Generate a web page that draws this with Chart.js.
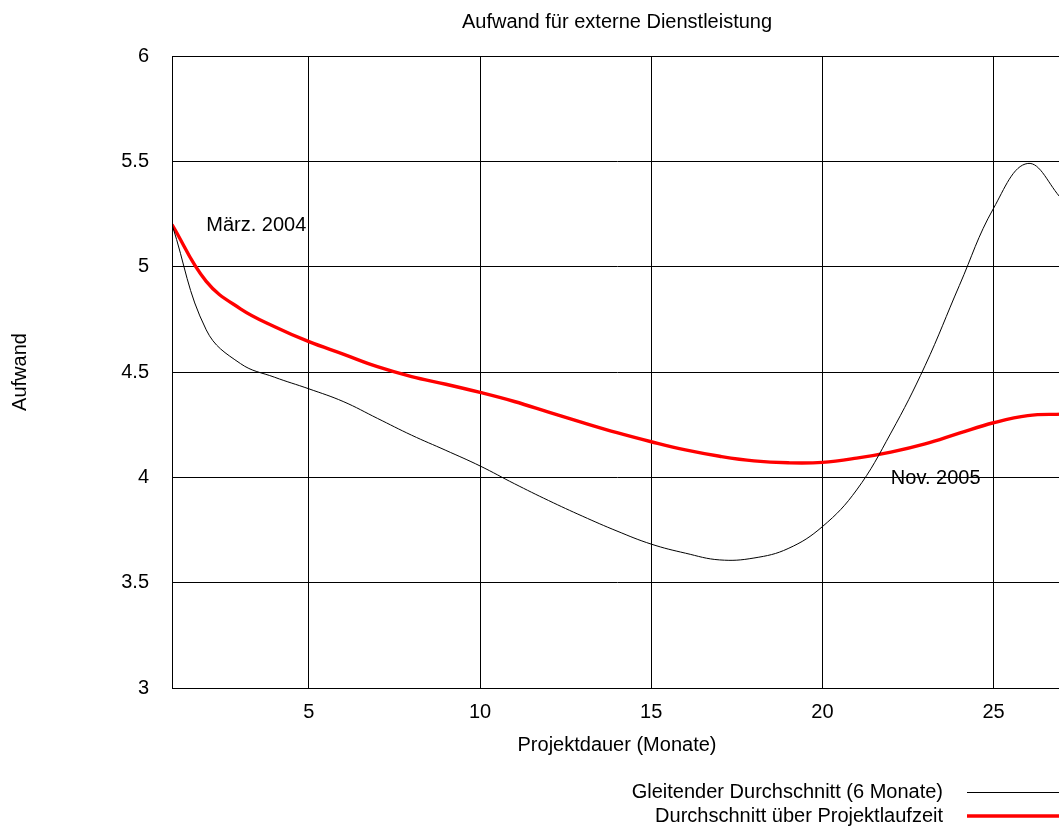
<!DOCTYPE html>
<html><head><meta charset="utf-8">
<script src="https://cdn.jsdelivr.net/npm/chart.js@4.4.1/dist/chart.umd.min.js"></script>
<style>html,body{margin:0;padding:0;overflow:hidden;background:#fff}</style>
</head><body>
<div style="width:1080px;height:826px"><canvas id="c" width="1080" height="826"></canvas></div>
<script>
// ---- data ----
const months = [1,2,3,4,5,6,7,8,9,10,11,12,13,14,15,16,17,18,19,20,21,22,23,24,25,26,27];
const gleitenderDurchschnitt = [5.2,4.70,4.54,4.475,4.42,4.36,4.28,4.20,4.128,4.054,3.97,3.89,3.815,3.745,3.683,3.64,3.608,3.617,3.662,3.766,3.94,4.21,4.53,4.91,5.277,5.49,5.32];
const durchschnittGesamt = [5.2,4.93,4.80,4.715,4.644,4.585,4.525,4.478,4.442,4.403,4.36,4.31,4.26,4.212,4.169,4.13,4.10,4.078,4.069,4.071,4.091,4.12,4.159,4.21,4.259,4.293,4.30];
const seriesLabels = ['Gleitender Durchschnitt (6 Monate)', 'Durchschnitt über Projektlaufzeit'];
const xTicks = [5,10,15,20,25];
const yTicks = [3,3.5,4,4.5,5,5.5,6];
const chartTitle = 'Aufwand für externe Dienstleistung';
const xTitle = 'Projektdauer (Monate)';
const yTitle = 'Aufwand';
const labelTexts = ['März. 2004', 'Nov. 2005'];
const labelX = [2, 22];
const labelY = [5.2, 4.0];

const FONT = '"Liberation Sans", Arial, Helvetica, sans-serif';
Chart.defaults.font.family = FONT;
Chart.defaults.font.size = 20;
Chart.defaults.color = '#000';

const toPoints = (ys) => months.map((m, i) => ({x: m, y: ys[i]}));

const frame = {
  id: 'frame',
  afterDraw(chart) {
    const {ctx, chartArea: a} = chart;
    ctx.save();
    ctx.strokeStyle = '#000';
    ctx.lineWidth = 1;
    ctx.strokeRect(Math.round(a.left) + 0.5, Math.round(a.top) + 0.5, a.right - a.left, a.bottom - a.top);
    // title centred on the plot
    ctx.fillStyle = '#000';
    ctx.font = '20px ' + FONT;
    ctx.textAlign = 'center';
    ctx.textBaseline = 'middle';
    ctx.fillText(chartTitle, (a.left + a.right) / 2, a.top - 34);
    // point labels
    ctx.textAlign = 'left';
    const sx = chart.scales.x, sy = chart.scales.y;
    labelTexts.forEach((t, i) => {
      ctx.fillText(t, sx.getPixelForValue(labelX[i]), sy.getPixelForValue(labelY[i]) + 1);
    });
    // legend (text then line sample)
    chart.data.datasets.forEach((ds, i) => {
      const y = Math.round(a.bottom + 104 + i * 24);
      ctx.textAlign = 'right';
      ctx.fillStyle = '#000';
      ctx.fillText(ds.label, a.right - 119, y);
      ctx.beginPath();
      ctx.strokeStyle = ds.borderColor;
      ctx.lineWidth = ds.borderWidth;
      const ly = ds.borderWidth < 2 ? y + 0.5 : y;
      ctx.moveTo(a.right - 95, ly);
      ctx.lineTo(a.right, ly);
      ctx.stroke();
    });
    ctx.restore();
  }
};

new Chart(document.getElementById('c'), {
  type: 'line',
  data: {
    datasets: [
      {label: seriesLabels[0], data: toPoints(gleitenderDurchschnitt), borderColor: '#000000', borderWidth: 1, pointRadius: 0, tension: 0.4, fill: false},
      {label: seriesLabels[1], data: toPoints(durchschnittGesamt), borderColor: '#ff0000', borderWidth: 3.4, pointRadius: 0, tension: 0.4, fill: false}
    ]
  },
  options: {
    responsive: false,
    animation: false,
    devicePixelRatio: 1,
    layout: {padding: {left: 0, top: 56, right: 18, bottom: 58}},
    plugins: {legend: {display: false}, title: {display: false}, tooltip: {enabled: false}},
    scales: {
      x: {
        type: 'linear', min: 1, max: 27,
        afterBuildTicks: (s) => { s.ticks = xTicks.map(v => ({value: v})); },
        afterFit: (s) => { s.height = 80; },
        grid: {color: '#000', lineWidth: 1, drawTicks: false},
        border: {color: '#000', width: 1},
        ticks: {padding: 12, maxRotation: 0, font: {size: 20}, color: '#000'},
        title: {display: true, text: xTitle, font: {size: 20}, color: '#000', padding: {top: 0, bottom: 11}}
      },
      y: {
        min: 3, max: 6,
        afterBuildTicks: (s) => { s.ticks = yTicks.map(v => ({value: v})); },
        afterFit: (s) => { s.width = 172; },
        grid: {color: '#000', lineWidth: 1, drawTicks: false},
        border: {color: '#000', width: 1},
        ticks: {padding: 23, font: {size: 20}, color: '#000', callback: (v) => String(v)},
        title: {display: true, text: yTitle, font: {size: 20}, color: '#000', padding: {top: 8, bottom: 0}}
      }
    }
  },
  plugins: [frame]
});
</script>
</body></html>
